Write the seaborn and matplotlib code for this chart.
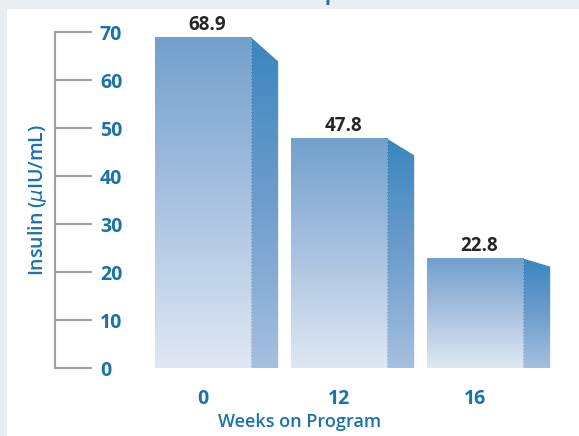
import numpy as np
import pandas as pd
import matplotlib.pyplot as plt
import seaborn as sns
from matplotlib.colors import LinearSegmentedColormap
from matplotlib.patches import Polygon, Rectangle

# data
weeks = ["0", "12", "16"]
insulin = [68.9, 47.8, 22.8]
y_ticks = [0, 10, 20, 30, 40, 50, 60, 70]

sns.set_theme(style="white")
plt.rcParams["font.family"] = ["Open Sans", "DejaVu Sans"]
plt.rcParams["mathtext.fontset"] = "dejavusans"

BLUE = "#1a72ad"
GREY = "#9c9ea1"
DARK = "#262626"

front_cmap = LinearSegmentedColormap.from_list(
    "front", ["#dfe8f2", "#a9c2e0", "#72a0cc"])
side_cmap = LinearSegmentedColormap.from_list(
    "side", ["#a6c0e0", "#6e9dcc", "#3a86be"])

fig = plt.figure(figsize=(5.79, 4.36), dpi=100, facecolor="#e9eef2")
fig.patches.append(Rectangle(
    (7 / 579, 0), 1, (436 - 9) / 436,
    transform=fig.transFigure, facecolor="white", edgecolor="none", zorder=-5))

ax = fig.add_axes([55 / 579, 68 / 436, 524 / 579, 336 / 436])
ax.patch.set_alpha(0)

df = pd.DataFrame({"week": weeks, "insulin": insulin})
sns.barplot(data=df, x="week", y="insulin", width=0.706, color="white", ax=ax)

grad = np.linspace(0, 1, 256).reshape(-1, 1)
depth = 0.2   # side face width (category units)
drop = 0.073  # slant of the side face top

for p, v in zip(ax.patches, insulin):
    x0, w, h = p.get_x(), p.get_width(), p.get_height()
    p.set_facecolor("none")
    p.set_edgecolor("none")

    ax.imshow(grad, extent=[x0, x0 + w, 0, h], origin="lower",
              aspect="auto", cmap=front_cmap, zorder=2)

    side = Polygon([(x0 + w, 0), (x0 + w, h),
                    (x0 + w + depth, h * (1 - drop)), (x0 + w + depth, 0)],
                   closed=True, facecolor="none", edgecolor="none")
    ax.add_patch(side)
    im = ax.imshow(grad, extent=[x0 + w, x0 + w + depth, 0, h],
                   origin="lower", aspect="auto", cmap=side_cmap, zorder=2)
    im.set_clip_path(side)

    ax.plot([x0 + w, x0 + w], [0, h], color="white", lw=0.6,
            alpha=0.5, ls=(0, (2, 2)), zorder=3)

    ax.annotate(f"{v}", (x0 + w / 2, h), xytext=(3, 2),
                textcoords="offset points", ha="center", va="bottom",
                fontsize=13.5, fontweight="bold", color=DARK,
                annotation_clip=False)

ax.set_xlim(-1.088, 2.765)
ax.set_ylim(0, 70)

for s in ["top", "right", "bottom"]:
    ax.spines[s].set_visible(False)
ax.spines["left"].set_color(GREY)
ax.spines["left"].set_linewidth(1.5)

ax.set_yticks(y_ticks)
ax.tick_params(axis="y", direction="in", length=26.6, width=1.5,
               color=GREY, pad=-32.4, labelsize=14, labelcolor=BLUE, left=True)
for lab in ax.get_yticklabels():
    lab.set_horizontalalignment("left")
    lab.set_fontweight("bold")

ax.tick_params(axis="x", length=0, pad=15, labelsize=14, labelcolor=BLUE)
for lab in ax.get_xticklabels():
    lab.set_fontweight("bold")

ax.set_xlabel("Weeks on Program", fontsize=13, color=BLUE, fontweight="semibold")
ax.xaxis.set_label_coords(0.466, -0.133)
ax.set_ylabel("Insulin ($\\mu$IU/mL)", fontsize=14, color=BLUE,
              fontweight="semibold")
ax.yaxis.set_label_coords(-0.012, 0.5)

# descender of the cut-off title at the top edge
fig.text(325 / 579, 1.0, "p", fontsize=14, fontweight="bold",
         color=BLUE, ha="left", va="baseline")

fig.savefig("out.png", dpi=100)
